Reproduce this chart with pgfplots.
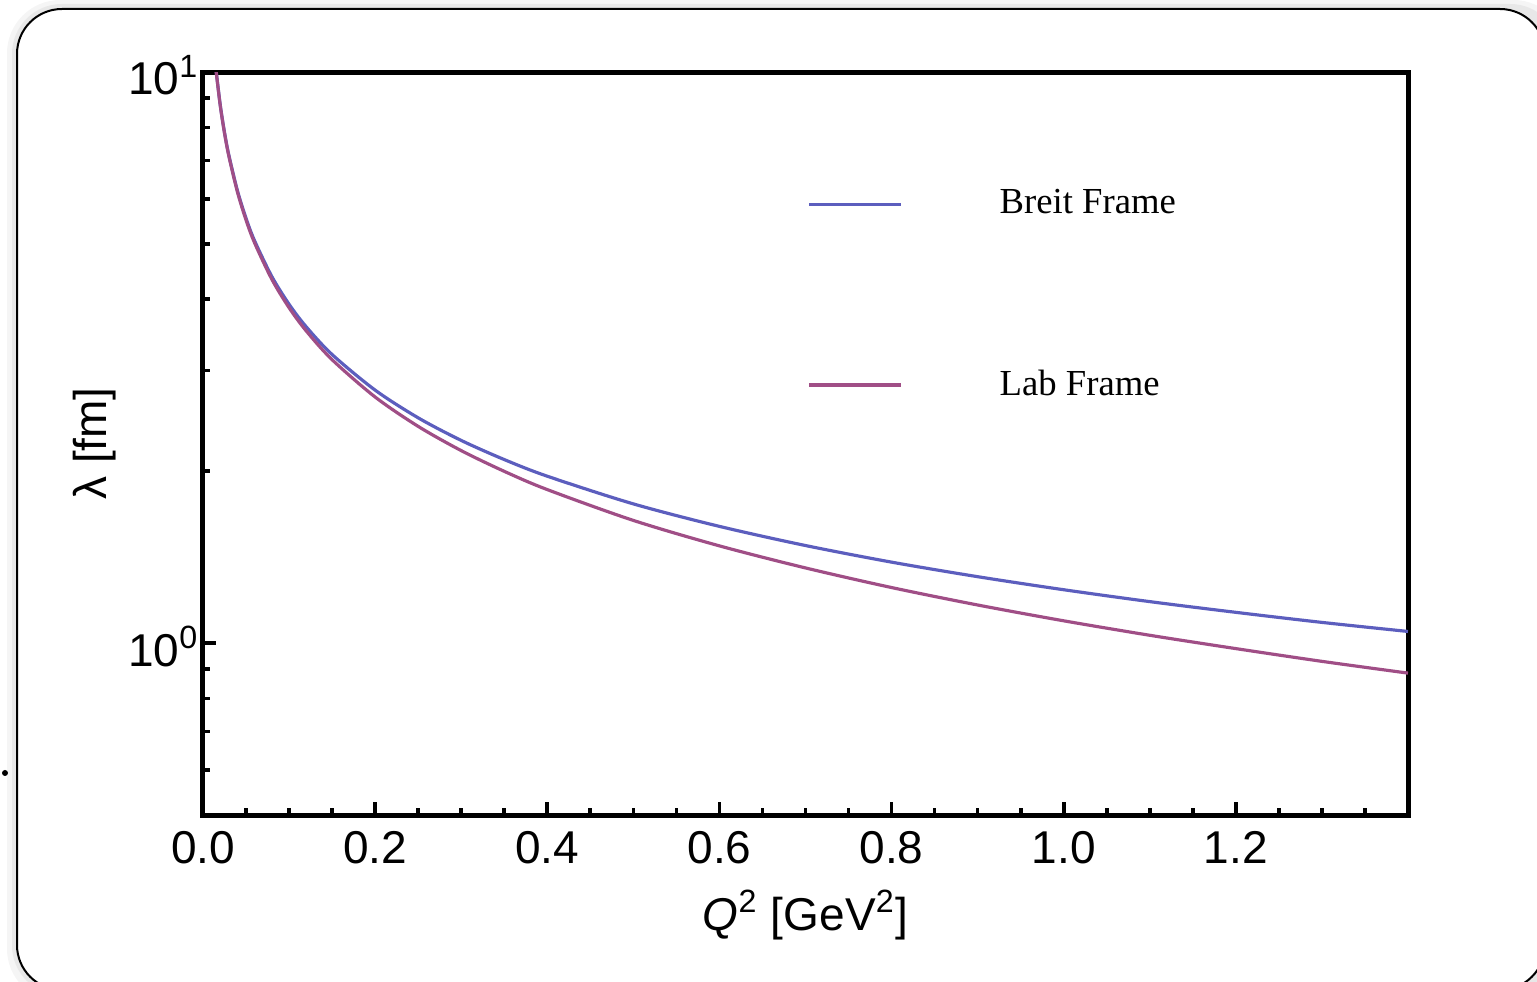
\documentclass[border=0pt]{standalone}
\usepackage{pgfplots}
\pgfplotsset{compat=1.18}
\usepackage{fontspec}
\setmainfont{Liberation Sans}
\newfontfamily\legfont{Liberation Serif}
\definecolor{breit}{RGB}{92,94,190}
\definecolor{lab}{RGB}{160,78,134}

\begin{document}
\begin{tikzpicture}
\useasboundingbox (0,0) rectangle (461.1pt,294.6pt);
\fill[black!4, rounded corners=16pt] (2.1pt,-6pt) rectangle (470pt,294.6pt);
\fill[black!9, rounded corners=15pt] (3.6pt,-4pt) rectangle (468pt,293.4pt);
\draw[line width=0.6pt, fill=white, rounded corners=13.5pt] (5.1pt,-2.4pt) rectangle (463.5pt,291.9pt);
\fill (1.5pt,62.7pt) circle (0.9pt);
\begin{axis}[
  at={(60.9pt,50.1pt)}, anchor=south west,
  scale only axis, width=361.5pt, height=222.9pt,
  ymode=log, xmin=0, xmax=1.4, ymin=0.5, ymax=10,
  axis line style={line width=1.5pt},
  tick align=inside, xtick pos=bottom, ytick pos=left,
  xtick={0,0.2,0.4,0.6,0.8,1.0,1.2},
  xticklabels={0.0,0.2,0.4,0.6,0.8,1.0,1.2},
  minor xtick={0.05,0.1,0.15,0.25,0.3,0.35,0.45,0.5,0.55,0.65,0.7,0.75,0.85,0.9,0.95,1.05,1.1,1.15,1.25,1.3,1.35},
  ytick={1,10},
  yticklabels={10\textsuperscript{0},10\textsuperscript{1}},
  minor ytick={0.6,0.7,0.8,0.9,2,3,4,5,6,7,8,9},
  major tick length=3.8pt, minor tick length=2.2pt,
  every major tick/.append style={line width=1.1pt, black},
  every minor tick/.append style={line width=1.1pt, black},
  /pgf/number format/assume math mode=true,
  tick label style={font=\fontsize{13.8}{16}\selectfont},
  xticklabel style={yshift=-1.3pt},
  yticklabel style={xshift=2.3pt, yshift=-1pt},
  label style={font=\fontsize{13.8}{16}\selectfont},
  xlabel={\textit{Q}\textsuperscript{2} [GeV\textsuperscript{2}]},
  ylabel={λ [fm]},
  xlabel style={at={(axis description cs:0.5,-0.1346)}, anchor=center},
  ylabel style={at={(axis description cs:-0.0896,0.5)}, anchor=center},
  legend style={draw=none, fill=none, inner sep=0pt, outer sep=0pt,
    at={(axis description cs:0.502,0.700)}, anchor=west,
    font=\legfont\fontsize{11}{13}\selectfont, row sep=45.3pt,
    nodes={inner sep=0pt}},
  legend cell align=left,
  legend image code/.code={\draw[#1] (0pt,0pt) -- (27.6pt,0pt); \path (56.6pt,0pt);},
]
\addplot[breit, line width=0.95pt, smooth] coordinates {
(0.015,10.124) (0.02,8.767) (0.025,7.842) (0.03,7.158) (0.04,6.200)
(0.05,5.545) (0.06,5.062) (0.08,4.384) (0.1,3.921) (0.12,3.579)
(0.15,3.201) (0.2,2.773) (0.25,2.480) (0.3,2.264) (0.35,2.096)
(0.4,1.960) (0.5,1.753) (0.6,1.601) (0.7,1.482) (0.8,1.386)
(0.9,1.307) (1.0,1.240) (1.1,1.182) (1.2,1.132) (1.3,1.087) (1.4,1.048)
};
\addlegendentry{Breit Frame}
\addplot[lab, line width=0.95pt, smooth] coordinates {
(0.015,10.102) (0.02,8.742) (0.025,7.814) (0.03,7.128) (0.04,6.165)
(0.05,5.506) (0.06,5.019) (0.08,4.335) (0.1,3.867) (0.12,3.520)
(0.15,3.135) (0.2,2.697) (0.25,2.396) (0.3,2.173) (0.35,1.999)
(0.4,1.857) (0.5,1.640) (0.6,1.480) (0.7,1.354) (0.8,1.251)
(0.9,1.166) (1.0,1.094) (1.1,1.032) (1.2,0.978) (1.3,0.929) (1.4,0.886)
};
\addlegendentry{Lab Frame}
\end{axis}
\end{tikzpicture}
\end{document}
